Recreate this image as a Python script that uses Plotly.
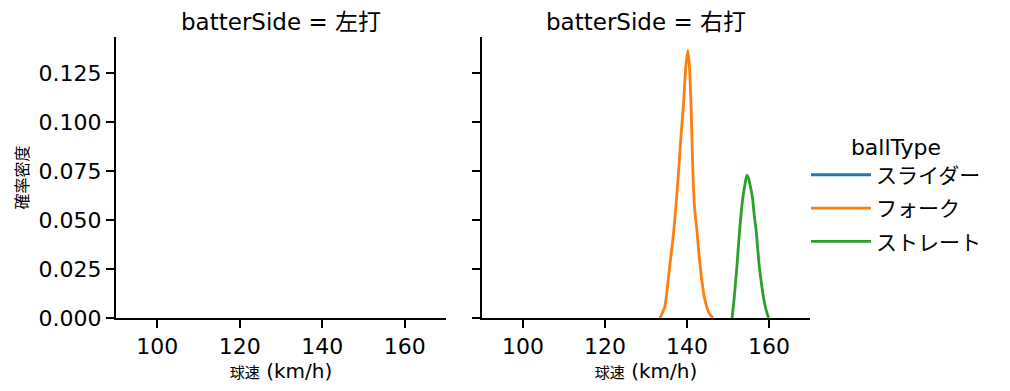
import plotly.graph_objects as go

FONT = "DejaVu Sans, Noto Sans CJK JP, sans-serif"

panels = ["左打", "右打"]
ball_types = ["スライダー", "フォーク", "ストレート"]
colors = ["#1f77b4", "#ff7f0e", "#2ca02c"]

# KDE curves (right panel, batterSide = 右打)
fork_speed = [133.4, 134.6, 135.4, 136.1, 136.8, 137.8, 138.5, 139.1, 139.7, 140.2,
              140.6, 141.0, 141.5, 141.9, 142.4, 143.0, 143.6, 144.2, 144.8, 145.5, 146.3]
fork_density = [0.0, 0.0058, 0.0194, 0.032, 0.0449, 0.0704, 0.092, 0.1078, 0.128, 0.1367,
                0.128, 0.1078, 0.0704, 0.055, 0.0449, 0.031, 0.0194, 0.011, 0.0058, 0.002, 0.0]

straight_speed = [151.0, 151.5, 152.2, 152.8, 153.6, 154.1, 154.6, 155.0, 155.4, 156.0,
                  156.4, 156.9, 157.6, 158.2, 158.7, 159.3, 159.9]
straight_density = [0.0, 0.010, 0.027, 0.044, 0.061, 0.0678, 0.0729, 0.0715, 0.0678, 0.061,
                    0.0525, 0.044, 0.027, 0.017, 0.010, 0.004, 0.0]

x_ticks = [100, 120, 140, 160]
y_ticks = [0.0, 0.025, 0.05, 0.075, 0.1, 0.125]

# page has an 8px body margin; compensate so the plot lands where the reference has it
OFF = 8
W, H = 1010, 391
px_left, px_right, px_top, px_bottom = 116, 810, 37, 318
L = px_left - OFF
T = px_top - OFF
R = W - (px_right - OFF)
B = H - (px_bottom - OFF)
pw = px_right - px_left
ph = px_bottom - px_top
d1 = [0, (446 - px_left) / pw]
d2 = [(482 - px_left) / pw, 1]

fig = go.Figure()

fig.add_trace(go.Scatter(x=[None], y=[None], mode="lines", name=ball_types[0],
                         line=dict(color=colors[0], width=2.8), legendgroup="a",
                         xaxis="x2", yaxis="y2"))
fig.add_trace(go.Scatter(x=fork_speed, y=fork_density, mode="lines", name=ball_types[1],
                         line=dict(color=colors[1], width=2.8, shape="spline", smoothing=0.6),
                         legendgroup="b", xaxis="x2", yaxis="y2"))
fig.add_trace(go.Scatter(x=straight_speed, y=straight_density, mode="lines", name=ball_types[2],
                         line=dict(color=colors[2], width=2.8, shape="spline", smoothing=0.6),
                         legendgroup="c", xaxis="x2", yaxis="y2"))
fig.add_trace(go.Scatter(x=[None], y=[None], mode="lines", showlegend=False, xaxis="x", yaxis="y"))

axis_common = dict(showgrid=False, zeroline=False, showline=True, linecolor="black", linewidth=2,
                   ticks="outside", ticklen=8, tickwidth=1.8, tickcolor="black", automargin=False,
                   tickfont=dict(family=FONT, size=22, color="black"))

xtitle = "<span style='font-size:15px'>球速</span> (km/h)"

fig.update_layout(
    width=W, height=H,
    margin=dict(l=L, r=R, t=T, b=B),
    plot_bgcolor="white", paper_bgcolor="white",
    font=dict(family=FONT, color="black"),
    xaxis=dict(domain=d1, range=[90, 170], tickvals=x_ticks, anchor="y",
               title=dict(text=xtitle, font=dict(size=20), standoff=6), **axis_common),
    yaxis=dict(domain=[0, 1], range=[0, 0.1435], tickvals=y_ticks, tickformat=".3f", anchor="x",
               title=dict(text="確率密度", font=dict(size=16), standoff=6), **axis_common),
    xaxis2=dict(domain=d2, range=[90, 170], tickvals=x_ticks, anchor="y2",
                title=dict(text=xtitle, font=dict(size=20), standoff=6), **axis_common),
    yaxis2=dict(domain=[0, 1], range=[0, 0.1435], tickvals=y_ticks, showticklabels=False,
                anchor="x2", **axis_common),
    legend=dict(x=(806 - px_left) / pw, xanchor="left",
                y=(px_bottom - 126) / ph, yanchor="top",
                title=dict(text="ballType", side="top center", font=dict(family=FONT, size=22)),
                font=dict(family=FONT, size=21), tracegroupgap=3, itemwidth=60,
                bgcolor="rgba(0,0,0,0)"),
    annotations=[
        dict(text="batterSide = " + panels[0], x=(d1[0] + d1[1]) / 2, y=1, xref="paper", yref="paper",
             xanchor="center", yanchor="bottom", yshift=0, showarrow=False,
             font=dict(family=FONT, size=23)),
        dict(text="batterSide = " + panels[1], x=(d2[0] + d2[1]) / 2, y=1, xref="paper", yref="paper",
             xanchor="center", yanchor="bottom", yshift=0, showarrow=False,
             font=dict(family=FONT, size=23)),
    ],
)

fig.write_html("out.html")
